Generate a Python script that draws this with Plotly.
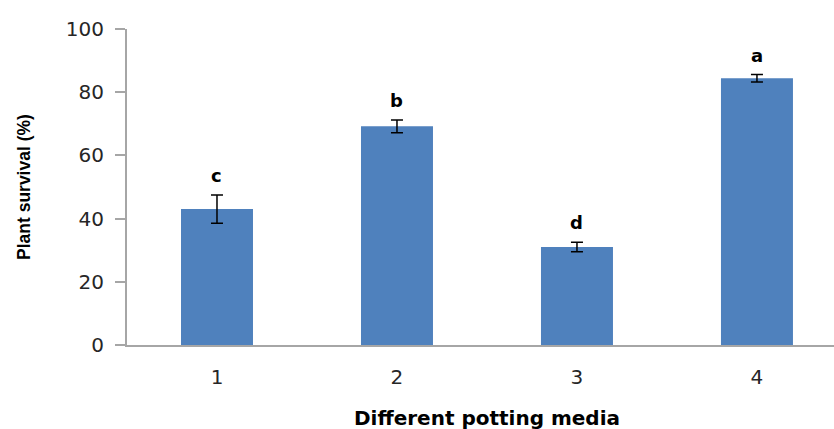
import plotly.graph_objects as go

categories = ["1", "2", "3", "4"]
survival = [43.0, 69.2, 31.0, 84.4]
errors = [4.5, 2.0, 1.5, 1.2]
letters = ["c", "b", "d", "a"]

fig = go.Figure()
fig.add_trace(go.Bar(
    x=categories, y=survival, width=0.4,
    marker=dict(color="#4F81BD", line=dict(width=0)),
    error_y=dict(type="data", array=errors, visible=True, color="#000000", thickness=1.5, width=6),
    showlegend=False,
))

for i, (v, e, l) in enumerate(zip(survival, errors, letters)):
    fig.add_annotation(x=i, y=v + e, text="<b>%s</b>" % l, showarrow=False,
                       yanchor="bottom", yshift=7,
                       font=dict(family="DejaVu Sans", size=18, color="#000000"))

# axis titles
fig.add_annotation(xref="paper", yref="paper", x=0.5, y=0, yshift=-73, xshift=6,
                   text="<b>Different potting media</b>", showarrow=False,
                   xanchor="center", yanchor="middle",
                   font=dict(family="DejaVu Sans", size=20, color="#000000"))
fig.add_annotation(xref="paper", yref="paper", x=0, y=0.5, xshift=-103,
                   text="<b>Plant survival (%)</b>", showarrow=False, textangle=-90,
                   xanchor="center", yanchor="middle",
                   font=dict(family="Liberation Sans, Arial", size=17.5, color="#000000"))

fig.update_layout(
    width=834, height=429,
    margin=dict(l=127, r=0, t=29, b=84),
    plot_bgcolor="white", paper_bgcolor="white",
    font=dict(family="DejaVu Sans", size=20, color="#262626"),
    xaxis=dict(
        type="category",
        range=[-0.5, 3.428], showline=True, linecolor="#A6A6A6", linewidth=2,
        ticks="", showgrid=False, zeroline=False, automargin=False,
        ticklabelstandoff=13,
        tickfont=dict(size=20, color="#262626"),
    ),
    yaxis=dict(
        range=[0, 100], dtick=20, showline=True, linecolor="#A6A6A6", linewidth=2,
        ticks="outside", ticklen=10, tickcolor="#A6A6A6", tickwidth=2,
        showgrid=False, zeroline=False, automargin=False,
        ticklabelstandoff=7,
        tickfont=dict(size=20, color="#262626"),
    ),
)

fig.write_html("out.html", config={"displayModeBar": False},
               post_script="document.body.style.margin='0';")
